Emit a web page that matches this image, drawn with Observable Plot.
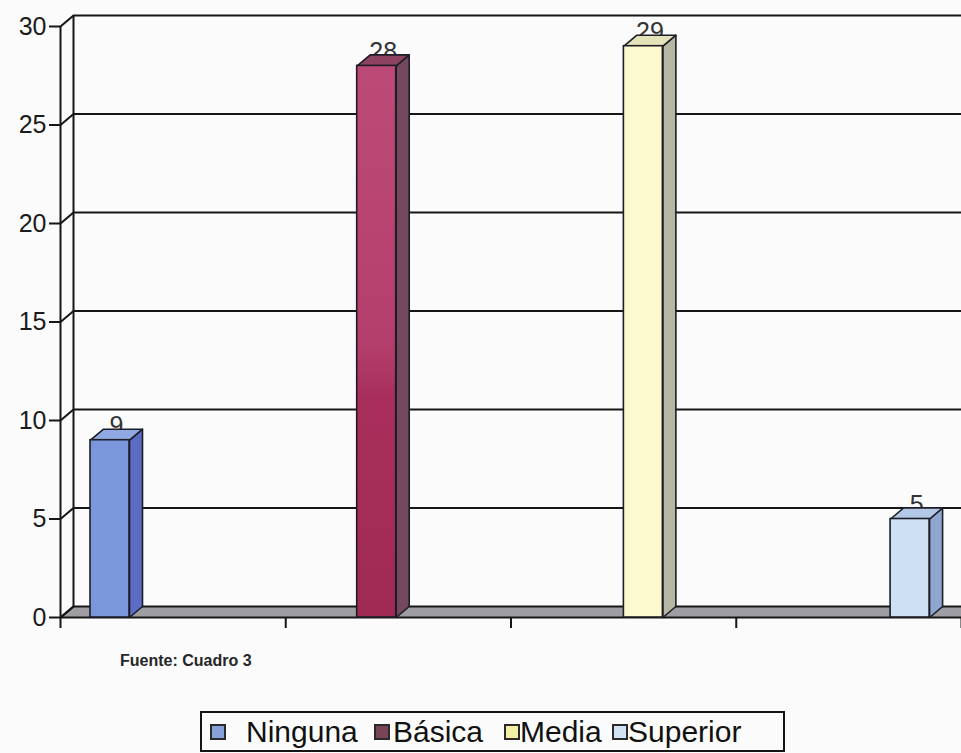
<!DOCTYPE html>
<html>
<head>
<meta charset="utf-8">
<script src="https://cdn.jsdelivr.net/npm/d3@7"></script>
<script src="https://cdn.jsdelivr.net/npm/@observablehq/plot@0.6"></script>
<style>
  html, body { margin: 0; padding: 0; background: #fbfbfc; width: 961px; height: 753px; overflow: hidden; }
  #wrap { position: relative; width: 961px; height: 753px; font-family: "Liberation Sans", Arial, sans-serif; }
  #chart { position: absolute; left: 0; top: 0; }
  #caption { position: absolute; left: 120px; top: 652px; font-size: 16px; font-weight: bold; color: #262626; }
  #legend { position: absolute; left: 200px; top: 711px; width: 581px; height: 37px; border: 2px solid #151515;
            font-size: 30px; color: #111; box-sizing: content-box; }
  .sw { position: absolute; top: 11px; width: 12px; height: 12px; border: 2px solid #2a2a2a; }
  .tx { position: absolute; top: 0px; line-height: 37px; white-space: nowrap; }
</style>
</head>
<body>
<svg width="0" height="0" style="position:absolute">
  <defs>
    <linearGradient id="basicaGrad" x1="0" y1="0" x2="0" y2="1">
      <stop offset="0%" stop-color="#bd4a76"/>
      <stop offset="50%" stop-color="#b53f6c"/>
      <stop offset="60%" stop-color="#a82f5b"/>
      <stop offset="100%" stop-color="#a12a55"/>
    </linearGradient>
  </defs>
</svg>
<div id="wrap">
  <div id="chart"></div>
  <div id="caption"></div>
  <div id="legend"></div>
</div>
<script>
const categories = ["Ninguna", "Básica", "Media", "Superior"];
const values = [9, 28, 29, 5];
const yTicks = [0, 5, 10, 15, 20, 25, 30];
const xTicks = [0, 1, 2, 3, 4];
const captionText = "Fuente: Cuadro 3";
const frontColors = ["#7b97dc", "url(#basicaGrad)", "#fbf9cd", "#cde0f4"];
const sideColors = ["#5b6cc4", "#74485f", "#b7b6a2", "#8fa7cf"];
const topColors = ["#91a9e2", "#8e4262", "#e4e2b8", "#b3c8e6"];
const legendColors = ["#86a0db", "#7a4458", "#f2f0a4", "#d3e3f4"];

// layout (pixel geometry converted to data units)
const W = 961, H = 640;
const X0 = 60, X1 = 961, Y0 = 617, Y1 = 26;
const ux = 4 / (X1 - X0), uy = 30 / (Y0 - Y1);
const DX = 13 * ux, DY = 11 * uy;   // 3D depth offset
const BW = 39 * ux;                  // bar front width
const barLeft = i => (90 - X0) * ux + i * 1.184;
const legendSwatchX = [8, 172, 302, 410];
const legendTextX = [44, 191, 318, 426];

const ink = "#161616";
const marks = [];

// floor
const floor = [[0, 0], [4, 0], [4 + DX, DY], [DX, DY], [0, 0]].map(([x, y]) => ({x, y}));
marks.push(Plot.line(floor, {x: "x", y: "y", fill: "#9d9da2", stroke: ink, strokeWidth: 2}));

// back wall gridlines
marks.push(Plot.ruleY(yTicks.filter(t => t > 0), {y: d => d + DY, x1: DX, x2: 4, stroke: ink, strokeWidth: 2.2}));
// left wall connectors
marks.push(Plot.link(yTicks, {x1: 0, y1: d => d, x2: DX, y2: d => d + DY, stroke: ink, strokeWidth: 2}));
// back-left vertical edge
marks.push(Plot.ruleX([DX], {y1: DY, y2: 30 + DY, stroke: ink, strokeWidth: 2}));
// front axis line
marks.push(Plot.ruleX([0], {y1: 0, y2: 30, stroke: ink, strokeWidth: 2}));
// y ticks and labels
marks.push(Plot.ruleY(yTicks, {x1: -11 * ux, x2: 0, stroke: ink, strokeWidth: 2}));
marks.push(Plot.text(yTicks, {x: -11 * ux, y: d => d, text: d => String(d), textAnchor: "end", dx: -3, fontSize: 25, fill: "#1b1b1b"}));
// x ticks
marks.push(Plot.ruleX(xTicks, {y1: 0, y2: -11 * uy, stroke: ink, strokeWidth: 2}));

// value labels (drawn before bars so the bar tops overlap them)
const labelData = values.map((v, i) => ({v, i}));
marks.push(Plot.text(labelData, {
  x: d => barLeft(d.i) + BW / 2 + DX / 2, y: d => d.v + DY, text: d => String(d.v),
  dy: -3, fontSize: 25, fill: "#333", lineAnchor: "middle"
}));

// bars
values.forEach((v, i) => {
  const L = barLeft(i), R = L + BW;
  const side = [[R, 0], [R + DX, DY], [R + DX, v + DY], [R, v], [R, 0]].map(([x, y]) => ({x, y}));
  const top = [[L, v], [R, v], [R + DX, v + DY], [L + DX, v + DY], [L, v]].map(([x, y]) => ({x, y}));
  marks.push(Plot.line(side, {x: "x", y: "y", fill: sideColors[i], stroke: "#1d1d28", strokeWidth: 1.6, strokeLinejoin: "round"}));
  marks.push(Plot.line(top, {x: "x", y: "y", fill: topColors[i], stroke: "#1d1d28", strokeWidth: 1.6, strokeLinejoin: "round"}));
  marks.push(Plot.rect([{v}], {x1: L, x2: R, y1: 0, y2: d => d.v, fill: frontColors[i], stroke: "#1d1d28", strokeWidth: 1.6}));
});

const chart = Plot.plot({
  width: W,
  height: H,
  marginLeft: X0,
  marginRight: 0,
  marginTop: Y1,
  marginBottom: H - Y0,
  x: {domain: [0, 4], range: [X0, X1], axis: null},
  y: {domain: [0, 30], range: [Y0, Y1], axis: null},
  style: {background: "transparent", fontFamily: "'Liberation Sans', Arial, sans-serif", overflow: "hidden"},
  marks
});
document.getElementById("chart").appendChild(chart);

document.getElementById("caption").textContent = captionText;
const legend = document.getElementById("legend");
categories.forEach((c, i) => {
  const sw = document.createElement("div");
  sw.className = "sw";
  sw.style.left = legendSwatchX[i] + "px";
  sw.style.background = legendColors[i];
  const tx = document.createElement("span");
  tx.className = "tx";
  tx.style.left = legendTextX[i] + "px";
  tx.textContent = c;
  legend.appendChild(sw);
  legend.appendChild(tx);
});
</script>
</body>
</html>
